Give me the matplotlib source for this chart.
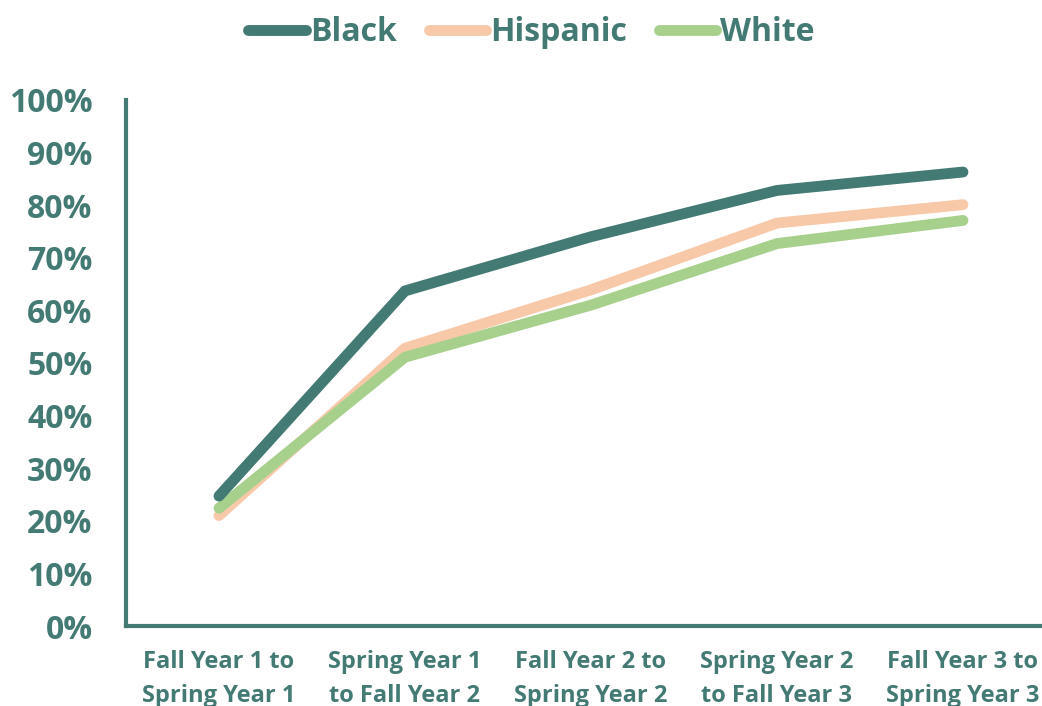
import matplotlib.pyplot as plt
from matplotlib.ticker import PercentFormatter

# retention rates by term transition
periodos = ["Fall Year 1 to\nSpring Year 1", "Spring Year 1\nto Fall Year 2",
            "Fall Year 2 to\nSpring Year 2", "Spring Year 2\nto Fall Year 3",
            "Fall Year 3 to\nSpring Year 3"]
black = [24.7, 63.7, 74.0, 82.8, 86.3]
hispanic = [21.0, 52.8, 63.9, 76.6, 80.1]
white = [22.4, 51.1, 61.0, 72.7, 77.1]

teal = "#437A74"
plt.rcParams['font.family'] = ['Open Sans', 'DejaVu Sans']

fig = plt.figure(figsize=(10.42, 7.06), dpi=100)
ax = fig.add_axes([0.1209, 0.1133, 0.8925, 0.7451])

x = range(len(periodos))
ax.plot(x, black, color=teal, lw=7.8, solid_capstyle='round', solid_joinstyle='round', label="Black", zorder=4)
ax.plot(x, hispanic, color="#F7C9A9", lw=7.8, solid_capstyle='round', solid_joinstyle='round', label="Hispanic", zorder=2)
ax.plot(x, white, color="#A8D08D", lw=7.8, solid_capstyle='round', solid_joinstyle='round', label="White", zorder=3)

ax.set_xlim(-0.5, len(periodos) - 0.5)
ax.set_ylim(0, 100)
ax.set_yticks(range(0, 101, 10))
ax.yaxis.set_major_formatter(PercentFormatter(decimals=0))
ax.set_xticks(list(x))
ax.set_xticklabels(periodos, fontsize=17, fontweight='bold', color=teal, linespacing=1.6)
for t in ax.get_yticklabels():
    t.set_fontsize(23)
    t.set_fontweight('bold')
    t.set_color(teal)
ax.tick_params(length=0)
ax.tick_params(axis='x', pad=17)
ax.tick_params(axis='y', pad=24)

for s in ['top', 'right']:
    ax.spines[s].set_visible(False)
for s in ['left', 'bottom']:
    ax.spines[s].set_color(teal)
    ax.spines[s].set_linewidth(3)

leg = fig.legend(loc='upper center', bbox_to_anchor=(0.51, 1.018), ncol=3, frameon=False,
                 handlelength=1.8, handletextpad=0.12, columnspacing=1.0,
                 prop={'size': 23, 'weight': 'bold'})
for t in leg.get_texts():
    t.set_color(teal)

fig.savefig("out.png", dpi=100)
